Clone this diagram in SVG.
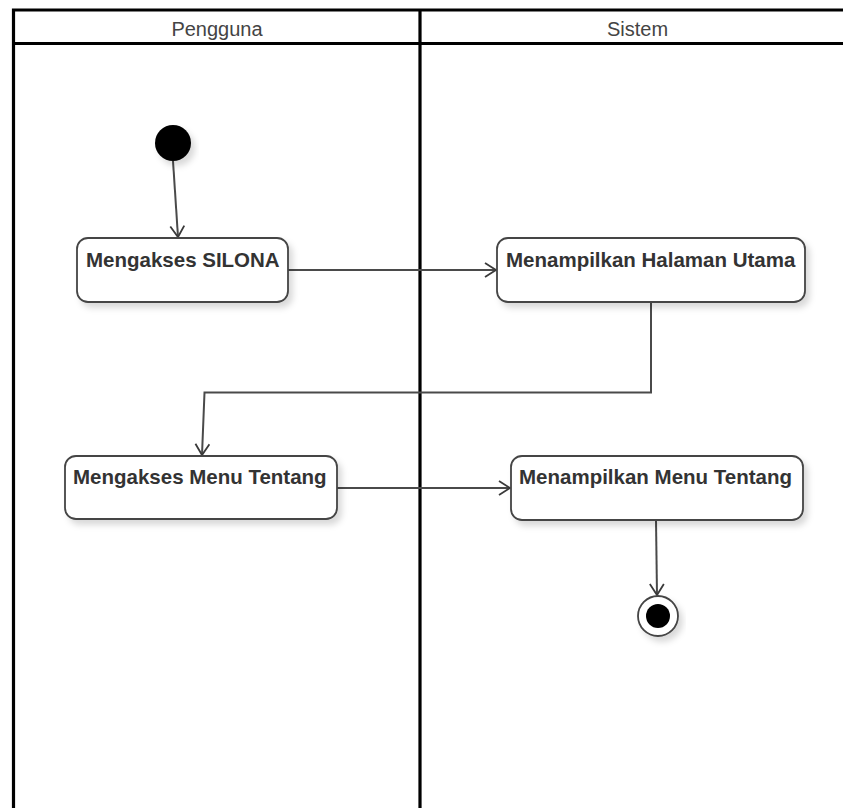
<svg xmlns="http://www.w3.org/2000/svg" width="843" height="808" viewBox="0 0 843 808">
<style>
.lane{stroke:#000;stroke-width:3.2;fill:none}
.hdr{font-family:"Liberation Sans",Arial,sans-serif;font-size:20px;fill:#444;text-anchor:middle}
.box{fill:#fff;stroke:#444;stroke-width:1.8}
.lbl{font-family:"Liberation Sans",Arial,sans-serif;font-size:20.5px;font-weight:bold;fill:#333}
.edge{stroke:#4a4a4a;stroke-width:2;fill:none}
</style>
<defs>
<filter id="sh" x="-20%" y="-20%" width="140%" height="160%">
<feDropShadow dx="4" dy="5" stdDeviation="3" flood-color="#000" flood-opacity="0.15"/>
</filter>
<marker id="arr" markerWidth="14" markerHeight="16" refX="12" refY="8" orient="auto" markerUnits="userSpaceOnUse">
<path d="M1,1 L12,8 L1,15" fill="none" stroke="#3a3a3a" stroke-width="1.8"/>
</marker>
</defs>
<rect width="843" height="808" fill="#fff"/>
<g id="swimlanes">
<path class="lane" d="M13.5,808 V10 H843 M13.5,43.5 H843 M420,10 V808"/>
<text class="hdr" x="217" y="35.5">Pengguna</text>
<text class="hdr" x="637.5" y="35.5">Sistem</text>
</g>
<g id="connectors">
<path class="edge" d="M173,161 L178,237" marker-end="url(#arr)"/>
<path class="edge" d="M288,270 H496" marker-end="url(#arr)"/>
<path class="edge" d="M651,302 V392.5 H204.5 L202,455" marker-end="url(#arr)"/>
<path class="edge" d="M337,488 H510" marker-end="url(#arr)"/>
<path class="edge" d="M656,520 L657,595" marker-end="url(#arr)"/>
</g>
<g id="start">
<circle cx="173" cy="143" r="18" fill="#000" filter="url(#sh)"/>
</g>
<g id="n1">
<rect class="box" x="77" y="238" width="211" height="64" rx="11" filter="url(#sh)"/>
<text class="lbl" x="86" y="267">Mengakses SILONA</text>
</g>
<g id="n2">
<rect class="box" x="497" y="238" width="308" height="64" rx="11" filter="url(#sh)"/>
<text class="lbl" x="506" y="267">Menampilkan Halaman Utama</text>
</g>
<g id="n3">
<rect class="box" x="65" y="456" width="272" height="63" rx="11" filter="url(#sh)"/>
<text class="lbl" x="73" y="484">Mengakses Menu Tentang</text>
</g>
<g id="n4">
<rect class="box" x="511" y="456" width="292" height="64" rx="11" filter="url(#sh)"/>
<text class="lbl" x="519" y="484">Menampilkan Menu Tentang</text>
</g>
<g id="end">
<circle cx="658" cy="616" r="20" fill="#fff" stroke="#444" stroke-width="1.8" filter="url(#sh)"/>
<circle cx="658" cy="616" r="12" fill="#000"/>
</g>
</svg>
